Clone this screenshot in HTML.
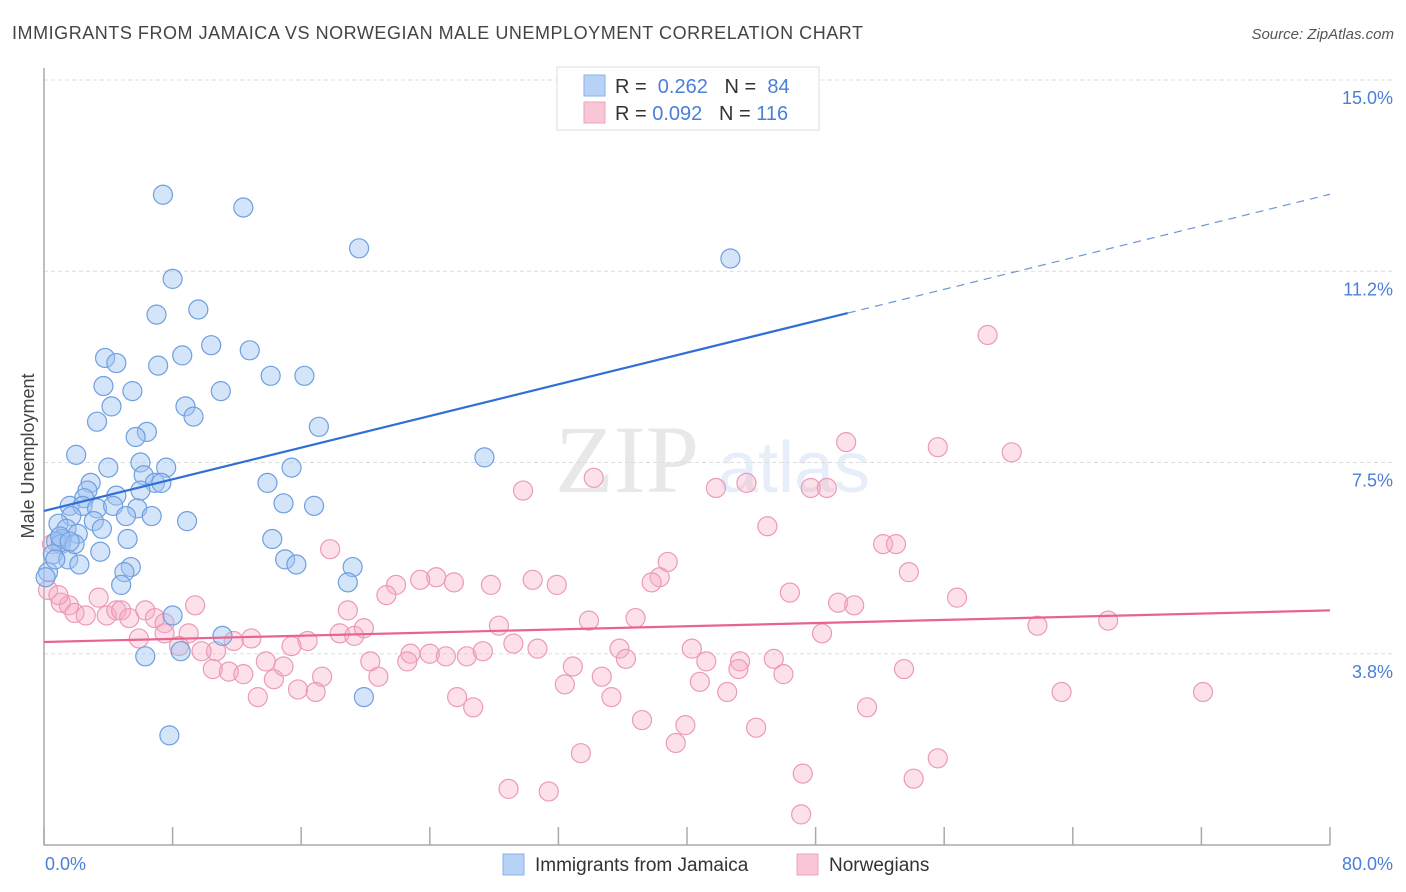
<!DOCTYPE html>
<html><head><meta charset="utf-8"><style>
body{margin:0;background:#fff;font-family:"Liberation Sans",sans-serif;}
</style></head><body>
<svg id="chart" width="1406" height="892" xmlns="http://www.w3.org/2000/svg" style="display:block">
<text x="12" y="39" font-size="18" fill="#444" textLength="851" lengthAdjust="spacing">IMMIGRANTS FROM JAMAICA VS NORWEGIAN MALE UNEMPLOYMENT CORRELATION CHART</text>
<text x="1394" y="39" font-size="15" fill="#555" font-style="italic" text-anchor="end">Source: ZipAtlas.com</text>
<text x="34" y="456" font-size="18" fill="#444" transform="rotate(-90 34 456)" text-anchor="middle">Male Unemployment</text>
<g opacity="0.13"><text x="555" y="492" font-size="96" font-family="Liberation Serif,serif" fill="#555">ZIP</text><text x="718" y="492" font-size="72" fill="#4a80d8">atlas</text></g>
<g id="grid"></g><g id="axes"></g><g id="pts"></g><g id="trend"></g>
<g>
<rect x="557" y="67" width="262" height="63" fill="#fff" stroke="#ddd"/>
<rect x="584" y="75" width="21" height="21" fill="#b8d2f5" stroke="#8ab2ea"/>
<rect x="584" y="102" width="21" height="21" fill="#f9c6d6" stroke="#eda3bd"/>
<text x="615" y="93" font-size="20" fill="#333">R = <tspan fill="#4a7fd8">&#160;0.262</tspan>&#160;&#160;&#160;N = <tspan fill="#4a7fd8">&#160;84</tspan></text>
<text x="615" y="120" font-size="20" fill="#333">R = <tspan fill="#4a7fd8">0.092</tspan>&#160;&#160;&#160;N = <tspan fill="#4a7fd8">116</tspan></text>
</g>
<g>
<rect x="503" y="854" width="21" height="21" fill="#b8d2f5" stroke="#8ab2ea"/>
<text x="535" y="871" font-size="19" fill="#333">Immigrants from Jamaica</text>
<rect x="797" y="854" width="21" height="21" fill="#f9c6d6" stroke="#eda3bd"/>
<text x="829" y="871" font-size="19" fill="#333">Norwegians</text>
</g>
</svg>
<script>
const yTicks=[3.75,7.5,11.25,15];
const yTickLabels=["3.8%","7.5%","11.2%","15.0%"];
const xTickVals=[0,8,16,24,32,40,48,56,64,72,80];
const blueX=[7.4,12.4,19.6,42.7,8.0,7.0,9.6,10.4,8.6,12.8,3.8,4.5,7.1,14.1,16.2,3.7,5.5,11.0,4.2,8.8,9.3,3.3,17.1,6.4,5.7,2.0,27.4,6.0,4.0,7.6,15.4,6.2,2.9,6.9,7.3,13.9,6.0,2.7,2.5,4.5,1.6,2.4,3.3,5.8,14.9,16.8,4.3,5.1,1.7,6.7,8.9,0.9,3.1,1.4,3.6,2.1,1.1,0.75,1.05,5.2,14.2,3.5,0.55,1.5,15.0,15.7,2.2,5.4,5.0,19.2,0.25,0.1,18.9,4.8,8.0,11.1,6.3,8.5,19.9,7.8,0.7,1.0,1.9,1.6];
const blueY=[12.75,12.5,11.7,11.5,11.1,10.4,10.5,9.8,9.6,9.7,9.55,9.45,9.4,9.2,9.2,9.0,8.9,8.9,8.6,8.6,8.4,8.3,8.2,8.1,8.0,7.65,7.6,7.5,7.4,7.4,7.4,7.25,7.1,7.1,7.1,7.1,6.95,6.95,6.8,6.85,6.65,6.65,6.6,6.6,6.7,6.65,6.65,6.45,6.45,6.45,6.35,6.3,6.35,6.2,6.2,6.1,6.0,5.95,5.9,6.0,6.0,5.75,5.7,5.6,5.6,5.5,5.5,5.45,5.35,5.45,5.35,5.25,5.15,5.1,4.5,4.1,3.7,3.8,2.9,2.15,5.6,6.05,5.9,5.95];
const pinkX=[58.7,49.9,55.6,60.2,34.2,43.7,29.8,41.8,47.7,48.7,45.0,52.2,53.0,17.8,38.8,38.3,53.8,24.4,37.8,21.9,23.4,25.5,27.8,30.4,31.9,21.3,46.4,56.8,49.4,50.4,18.9,36.8,33.9,28.3,9.4,3.4,1.05,1.55,1.9,2.6,3.9,4.5,4.8,5.3,6.3,6.9,7.5,9.0,7.5,5.9,8.4,11.8,12.9,10.7,9.8,15.4,16.4,18.4,19.3,19.9,48.4,61.8,66.2,29.2,30.7,35.8,40.3,22.8,24.0,25.0,26.3,27.3,36.2,20.3,22.6,13.8,41.2,43.3,45.4,43.2,46.0,32.9,34.7,53.5,40.8,32.4,10.5,11.5,12.4,17.3,14.3,14.9,20.8,35.3,42.5,15.8,16.9,13.3,25.7,26.7,51.2,63.3,72.1,37.2,39.9,44.3,39.3,33.4,55.6,47.2,54.1,28.9,31.4,47.1,0.25,0.9,0.5];
const pinkY=[10.0,7.9,7.8,7.7,7.2,7.1,6.95,7.0,7.0,7.0,6.25,5.9,5.9,5.8,5.55,5.25,5.35,5.25,5.15,5.1,5.2,5.15,5.1,5.2,5.1,4.9,4.95,4.85,4.75,4.7,4.6,4.45,4.4,4.3,4.7,4.85,4.75,4.7,4.55,4.5,4.5,4.6,4.6,4.45,4.6,4.45,4.35,4.15,4.15,4.05,3.9,4.0,4.05,3.8,3.8,3.9,4.0,4.15,4.1,4.25,4.15,4.3,4.4,3.95,3.85,3.85,3.85,3.75,3.75,3.7,3.7,3.8,3.65,3.6,3.6,3.6,3.6,3.6,3.65,3.45,3.35,3.5,3.3,3.45,3.2,3.15,3.45,3.4,3.35,3.3,3.25,3.5,3.3,2.9,3.0,3.05,3.0,2.9,2.9,2.7,2.7,3.0,3.0,2.45,2.35,2.3,2.0,1.8,1.7,1.4,1.3,1.1,1.05,0.6,5.0,4.9,5.9];
const blueTrend=[6.55,10.43,12.76]; // y at x=0, x=50, x=80
const pinkTrend=[3.98,4.6]; // y at x=0, x=80
const NS="http://www.w3.org/2000/svg";
const X0=44,X1=1330,Y0=845,YTOP=80;
const sx=v=>X0+(X1-X0)*v/80;
const sy=v=>Y0-(Y0-YTOP)*v/15;
function mk(tag,attrs,parent){const e=document.createElementNS(NS,tag);for(const k in attrs)e.setAttribute(k,attrs[k]);parent.appendChild(e);return e;}
const grid=document.getElementById('grid'),axes=document.getElementById('axes'),pts=document.getElementById('pts'),trend=document.getElementById('trend');
yTicks.forEach((t,i)=>{
 const l=mk('line',{x1:X0,x2:1392,y1:sy(t),y2:sy(t),stroke:'#ddd','stroke-dasharray':'4 3'},grid);
 
 
 const tx=mk('text',{x:1393,y:sy(t)+24,'font-size':18,fill:'#4a7fd8','text-anchor':'end'},axes);
 tx.textContent=yTickLabels[i];
 
 
});
const ax=mk('path',{d:`M${X0} 68 V${Y0} H${X1}`,stroke:'#aaa',fill:'none','stroke-width':1.5},axes);


xTickVals.forEach(v=>{
 const t=mk('line',{x1:sx(v),x2:sx(v),y1:Y0,y2:Y0-18,stroke:'#aaa','stroke-width':1.5},axes);
 
 
});
const xl=mk('text',{x:45,y:870,'font-size':18,fill:'#4a7fd8'},axes);xl.textContent='0.0%';


const xr=mk('text',{x:1393,y:870,'font-size':18,fill:'#4a7fd8','text-anchor':'end'},axes);xr.textContent='80.0%';


pinkX.forEach((v,i)=>{
 const c=mk('circle',{cx:sx(v),cy:sy(pinkY[i]),r:9.5,fill:'rgba(246,170,196,0.35)',stroke:'#ec9ab8','stroke-width':1.2},pts);
 
 
});
blueX.forEach((v,i)=>{
 const c=mk('circle',{cx:sx(v),cy:sy(blueY[i]),r:9.5,fill:'rgba(160,196,242,0.45)',stroke:'#6f9fe0','stroke-width':1.2},pts);
 
 
});
const b1=mk('line',{x1:sx(0),y1:sy(blueTrend[0]),x2:sx(50),y2:sy(blueTrend[1]),stroke:'#2f6fd6','stroke-width':2.2},trend);


const b2=mk('line',{x1:sx(50),y1:sy(blueTrend[1]),x2:sx(80),y2:sy(blueTrend[2]),stroke:'#6f94d8','stroke-width':1.2,'stroke-dasharray':'8 6'},trend);


const p1=mk('line',{x1:sx(0),y1:sy(pinkTrend[0]),x2:sx(80),y2:sy(pinkTrend[1]),stroke:'#e8648f','stroke-width':2.2},trend);


</script>
</body></html>
